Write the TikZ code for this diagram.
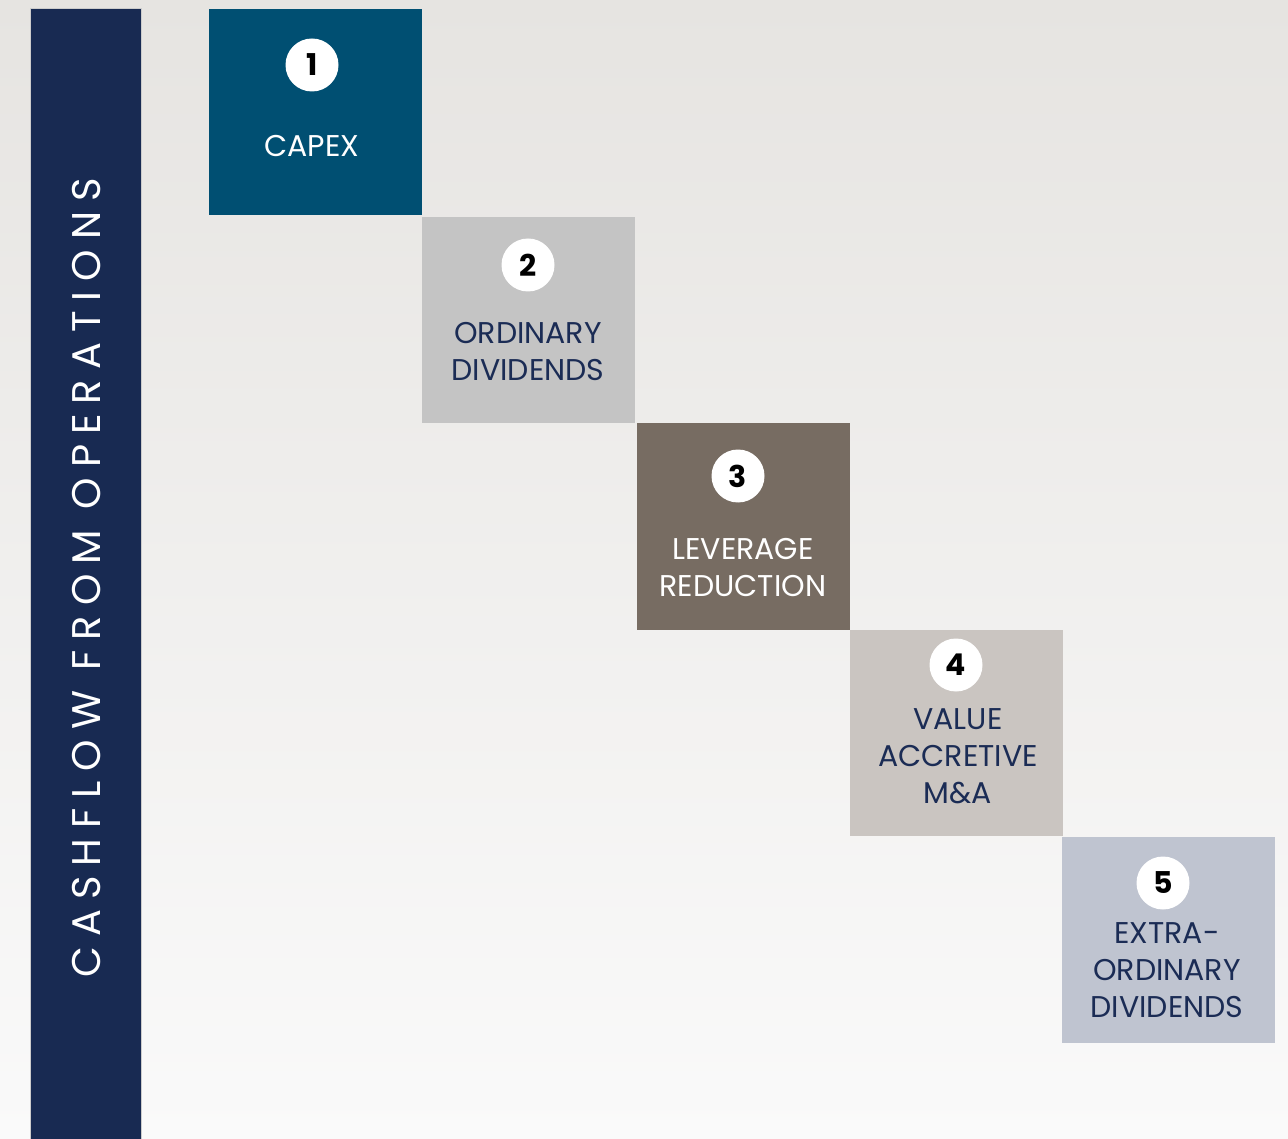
\documentclass[tikz,border=0pt]{standalone}
\usepackage{fontspec}
\setmainfont{Poppins}
\newfontfamily\spacedfont[LetterSpace=25]{Poppins}
\definecolor{bgtop}{HTML}{E6E4E1}
\definecolor{bgbot}{HTML}{FAFAFA}
\definecolor{barblue}{HTML}{182A52}
\definecolor{navytext}{HTML}{1B2C55}
\definecolor{capexblue}{HTML}{004F72}
\definecolor{ordgray}{HTML}{C4C4C4}
\definecolor{levbrown}{HTML}{776C62}
\definecolor{mnagray}{HTML}{CAC5C1}
\definecolor{extrablue}{HTML}{BFC4D0}
\tikzset{
  stepbox/.style={draw=none, minimum width=213pt, minimum height=206pt, inner sep=0pt},
  stepnum/.style={circle, fill=white, minimum size=53pt, inner sep=0pt,
    font=\fontsize{30}{30}\selectfont\bfseries, text=black},
  steptext/.style={align=center, font=\fontsize{30}{37}\selectfont, text=navytext},
}
\begin{document}
\begin{tikzpicture}[x=1pt,y=-1pt]
		\useasboundingbox (0,0) rectangle (1288,1139);
		\shade[top color=bgtop, bottom color=bgbot] (0,0) rectangle (1288,1139);
		\draw[fill=barblue, draw=gray!40] (30,8) rectangle (141,1139);
		\node(flow)[rotate=90, anchor=center, text=white, font=\fontsize{40}{40}\selectfont\spacedfont] at (87,578) {CASHFLOW FROM OPERATIONS};
		%%%%%%%
		\node(capex)[stepbox, fill=capexblue] at (315.5,112) {};
		\node(n1)[stepnum] at (312,65) {1};
		\node(t1)[steptext, text=white] at (312,146) {CAPEX};
		%%%%%%%
		\node(ord)[stepbox, fill=ordgray] at (528.5,320) {};
		\node(n2)[stepnum] at (528,265) {2};
		\node(t2)[steptext] at (528,351.5) {ORDINARY\\DIVIDENDS};
		%%%%%%%
		\node(lev)[stepbox, fill=levbrown] at (743.5,526.5) {};
		\node(n3)[stepnum] at (738,476) {3};
		\node(t3)[steptext, text=white] at (743,567.5) {LEVERAGE\\REDUCTION};
		%%%%%%%
		\node(mna)[stepbox, fill=mnagray] at (956,733) {};
		\node(n4)[stepnum] at (956,665) {4};
		\node(t4)[steptext] at (958,756) {VALUE\\ACCRETIVE\\M\&A};
		%%%%%%%
		\node(extra)[stepbox, fill=extrablue] at (1168.5,940) {};
		\node(n5)[stepnum] at (1163,883) {5};
		\node(t5)[steptext] at (1167,970) {EXTRA-\\ORDINARY\\DIVIDENDS};
\end{tikzpicture}
\end{document}
